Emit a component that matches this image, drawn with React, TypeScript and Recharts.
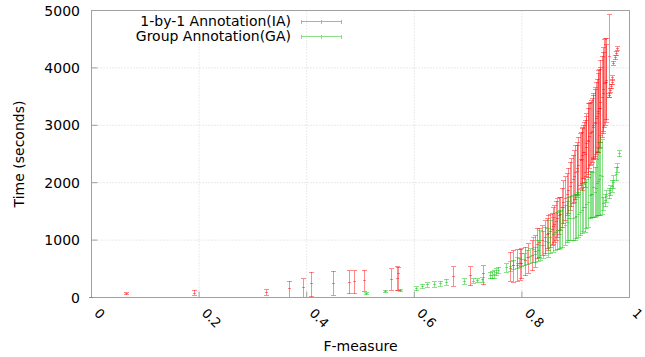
import React from 'react';
import { ScatterChart, Scatter, XAxis, YAxis, CartesianGrid, ErrorBar, Legend } from 'recharts';

const xTicks = [0, 0.2, 0.4, 0.6, 0.8, 1];
const xTickLabels = ['0', '0.2', '0.4', '0.6', '0.8', '1'];
const yTicks = [0, 1000, 2000, 3000, 4000, 5000];

const IA_NAME = '1-by-1 Annotation(IA)';
const GA_NAME = 'Group Annotation(GA)';

// 1-by-1 Annotation (IA): F-measure, mean time, lower and upper end of error bar
const iaF = [
  0.065, 0.191, 0.325, 0.368, 0.394, 0.408, 0.449, 0.48, 0.489, 0.507, 0.558, 0.568, 0.571, 0.672, 0.704, 0.729,
  0.779, 0.785, 0.791, 0.797, 0.8, 0.807, 0.813, 0.819, 0.825, 0.829, 0.833, 0.838, 0.844, 0.847, 0.85, 0.856,
  0.861, 0.866, 0.872, 0.878, 0.884, 0.89, 0.896, 0.9, 0.903, 0.906, 0.909, 0.912, 0.915, 0.918, 0.921, 0.924,
  0.927, 0.931, 0.934, 0.937, 0.939, 0.943, 0.946, 0.947, 0.951, 0.954, 0.955, 0.962,
  0.963, 0.964, 0.966, 0.968, 0.969, 0.971, 0.974, 0.976, 0.977,
  0.853, 0.859, 0.864, 0.869, 0.875, 0.881, 0.887, 0.893, 0.898, 0.904, 0.91, 0.913, 0.917,
  0.92, 0.923, 0.926, 0.929, 0.933, 0.936, 0.94, 0.942, 0.945, 0.949, 0.952, 0.957, 0.958,
];
const iaTime = [
  64, 75, 87, 150, 169, 238, 238, 256, 273, 296, 308, 331, 423, 366, 383, 413,
  500, 560, 560, 590, 600, 640, 690, 730, 800, 930, 950, 1000, 1050, 1100, 1120, 1180,
  1280, 1380, 1450, 1650, 1790, 1930, 2050, 2170, 2200, 2300, 2400, 2400, 2530, 2500, 2690, 2730,
  2850, 2900, 2990, 3050, 3120, 3240, 3300, 3400, 3560, 3730, 3750, 4200,
  3520, 3606, 3676, 3751, 3827, 4083, 4176, 4256, 4333,
  1150, 1240, 1330, 1420, 1560, 1720, 1860, 2000, 2110, 2240, 2390, 2470, 2520,
  2620, 2720, 2810, 2870, 2960, 3030, 3160, 3210, 3290, 3490, 3620, 3780, 3750,
];
const iaLow = [
  45, 40, 40, 0, 0, 10, 35, 64, 64, 110, 122, 122, 130, 192, 209, 220,
  280, 267, 279, 300, 326, 383, 423, 470, 528, 674, 690, 732, 761, 848, 819, 906,
  960, 1051, 1167, 1284, 1429, 1516, 1632, 1700, 1748, 1800, 1951, 1864, 2068, 1922, 2183, 2096,
  2300, 2350, 2416, 2450, 2500, 2531, 2618, 2700, 2850, 2967, 2997, 3490,
  3485, 3571, 3641, 3716, 3792, 4048, 4141, 4221, 4298,
  870, 930, 1000, 1100, 1220, 1350, 1470, 1580, 1660, 1780, 1900, 1980, 2000,
  2100, 2150, 2250, 2320, 2400, 2430, 2520, 2530, 2600, 2780, 2900, 3050, 3100,
];
const iaHigh = [
  85, 130, 135, 284, 331, 441, 458, 465, 465, 476, 500, 535, 530, 540, 540, 550,
  790, 819, 831, 840, 848, 876, 935, 993, 1080, 1196, 1200, 1254, 1341, 1371, 1429, 1458,
  1600, 1720, 1748, 2038, 2155, 2357, 2474, 2648, 2648, 2793, 2850, 2939, 3000, 3084, 3200, 3375,
  3400, 3461, 3560, 3650, 3751, 3955, 4000, 4129, 4274, 4489, 4507, 4925,
  3555, 3641, 3711, 3786, 3862, 4118, 4211, 4291, 4368,
  1440, 1560, 1680, 1740, 1900, 2100, 2250, 2420, 2560, 2700, 2880, 2960, 3050,
  3150, 3300, 3380, 3430, 3520, 3620, 3800, 3900, 3980, 4200, 4350, 4510, 4400,
];

// Group Annotation (GA)
const gaF = [
  0, 0.512, 0.547, 0.574, 0.604, 0.616, 0.624, 0.637, 0.648, 0.66, 0.693, 0.71, 0.718, 0.726, 0.741, 0.745, 0.749, 0.753, 0.757,
  0.772, 0.779, 0.785, 0.791, 0.795, 0.8, 0.805, 0.81, 0.816, 0.822, 0.825, 0.83, 0.834, 0.84, 0.844, 0.85,
  0.853, 0.858, 0.862, 0.867, 0.872, 0.876, 0.881, 0.887, 0.891, 0.896, 0.901, 0.906, 0.912, 0.915, 0.918, 0.921,
  0.924, 0.927, 0.931, 0.934, 0.937, 0.94, 0.943, 0.947, 0.952, 0.958, 0.965, 0.971, 0.975, 0.978, 0.982,
  0.869, 0.884, 0.899, 0.909, 0.929, 0.939, 0.945, 0.949, 0.955, 0.962, 0.968,
];
const gaTime = [
  0, 64, 105, 122, 150, 197, 221, 226, 238, 267, 279, 284, 296, 308, 383, 390, 400, 441, 470,
  515, 535, 565, 598, 600, 657, 660, 697, 720, 830, 745, 815, 900, 910, 980, 950,
  1050, 1100, 1140, 1160, 1180, 1220, 1250, 1370, 1380, 1385, 1410, 1440, 1515, 1560, 1570, 1620,
  1660, 1780, 1790, 1920, 1835, 1985, 2020, 2125, 1632, 1760, 1865, 2010, 2150, 2260, 2510,
  1170, 1310, 1400, 1480, 1790, 1900, 2060, 2100, 1690, 1810, 1935,
];
const gaLow = [
  0, 45, 80, 102, 115, 162, 181, 181, 193, 217, 234, 244, 261, 268, 328, 330, 335, 381, 410,
  440, 450, 480, 500, 528, 540, 557, 570, 590, 615, 615, 630, 645, 680, 732, 702,
  761, 790, 819, 830, 848, 870, 906, 993, 1000, 993, 1020, 1051, 1110, 1150, 1138, 1200,
  1225, 1371, 1400, 1400, 1400, 1420, 1429, 1429, 1516, 1661, 1777, 1893, 2038, 2183, 2456,
  840, 950, 1000, 1080, 1390, 1410, 1429, 1450, 1580, 1720, 1830,
];
const gaHigh = [
  5, 84, 130, 142, 185, 232, 261, 271, 283, 317, 324, 324, 331, 348, 438, 450, 465, 501, 530,
  590, 620, 650, 690, 680, 760, 766, 820, 850, 1051, 876, 1000, 1167, 1150, 1225, 1196,
  1341, 1400, 1458, 1480, 1516, 1560, 1603, 1748, 1760, 1777, 1800, 1835, 1922, 1960, 2009, 2050,
  2096, 2200, 2183, 2444, 2270, 2550, 2618, 2822, 1748, 1864, 1951, 2125, 2270, 2334, 2560,
  1500, 1680, 1790, 1880, 2190, 2400, 2700, 2750, 1800, 1900, 2040,
];

const RED = 'rgba(255,0,0,0.45)';
const GREEN = 'rgba(0,190,0,0.45)';
const RED_KEY = '#ff8c8c';
const GREEN_KEY = '#8cdc8c';
const AXIS = '#a0a0a0';
const FONT = '"DejaVu Sans", Verdana, sans-serif';
const FS = 14;

const keyColorByName: Record<string, string> = { [IA_NAME]: RED_KEY, [GA_NAME]: GREEN_KEY };

const build = (f: number[], t: number[], lo: number[], hi: number[]) =>
  f.map((x, i) => ({ x, y: t[i], err: [Math.max(0, t[i] - lo[i]), Math.max(0, hi[i] - t[i])] }));

const iaData = build(iaF, iaTime, iaLow, iaHigh);
const gaData = build(gaF, gaTime, gaLow, gaHigh);

const plusShape = (color: string) => (props: any) => {
  const { cx, cy } = props;
  if (cx == null || cy == null) return <g />;
  return (
    <path
      d={`M${cx - 1.5},${cy}H${cx + 1.5}`}
      stroke={color}
      strokeWidth={1}
      fill="none"
      shapeRendering="crispEdges"
    />
  );
};

const XTick = (props: any) => {
  const { x, y, payload } = props;
  const idx = xTicks.indexOf(payload.value);
  const label = idx >= 0 ? xTickLabels[idx] : String(payload.value);
  const tx = x + 2;
  return (
    <text x={tx} y={y} transform={`rotate(45 ${tx} ${y})`} textAnchor="start" fontSize={13} fill="#000" fontFamily={FONT}>
      {label}
    </text>
  );
};

const YTick = (props: any) => {
  const { x, y, payload } = props;
  return (
    <text x={x} y={y + 5} textAnchor="end" fontSize={FS} fill="#000" fontFamily={FONT}>
      {payload.value}
    </text>
  );
};

const XLabel = (props: any) => {
  const vb = props.viewBox || { x: 91.5, y: 297.5, width: 538, height: 59.5 };
  return (
    <text x={vb.x + vb.width / 2} y={vb.y + 53} textAnchor="middle" fontSize={FS} fill="#000" fontFamily={FONT}>
      F-measure
    </text>
  );
};

const YLabel = (props: any) => {
  const vb = props.viewBox || { x: 0, y: 10.5, width: 91.5, height: 287 };
  const cx = vb.x + 24;
  const cy = vb.y + vb.height / 2;
  return (
    <text x={cx} y={cy} transform={`rotate(-90 ${cx} ${cy})`} textAnchor="middle" fontSize={FS} fill="#000" fontFamily={FONT}>
      Time (seconds)
    </text>
  );
};

const LegendContent = (props: any) => {
  const payload = props.payload || [];
  return (
    <svg width={645} height={45} style={{ display: 'block', overflow: 'visible' }}>
      {payload.map((p: any, i: number) => {
        const ly = 21.5 + i * 15;
        const c = keyColorByName[p.value] || p.color;
        return (
          <g key={p.value} shapeRendering="crispEdges">
            <text x={291} y={ly + 4.5} textAnchor="end" fontSize={FS} fill="#000" fontFamily={FONT}>
              {p.value}
            </text>
            <line x1={301} x2={342} y1={ly} y2={ly} stroke={c} />
            <line x1={301.5} x2={301.5} y1={ly - 2} y2={ly + 2} stroke={c} />
            <line x1={341.5} x2={341.5} y1={ly - 2} y2={ly + 2} stroke={c} />
            <line x1={321.5} x2={321.5} y1={ly - 2} y2={ly + 2} stroke={c} />
          </g>
        );
      })}
    </svg>
  );
};

export default function App() {
  return (
    <div style={{ position: 'absolute', left: 0, top: 0, background: '#fff' }}>
      <ScatterChart width={645} height={357} margin={{ top: 9.5, right: 14.5, bottom: 0, left: 0 }}>
        <CartesianGrid stroke="#d4d4d4" strokeDasharray="1 2" />
        <XAxis
          type="number"
          dataKey="x"
          domain={[0, 1]}
          ticks={xTicks}
          height={59.5}
          stroke={AXIS}
          tickLine={{ stroke: AXIS }}
          tickSize={-6}
          tickMargin={22.5}
          tick={<XTick />}
          interval={0}
          label={<XLabel />}
        />
        <XAxis
          xAxisId="top"
          orientation="top"
          type="number"
          domain={[0, 1]}
          ticks={xTicks}
          height={1}
          stroke={AXIS}
          tickLine={{ stroke: AXIS }}
          tickSize={-6}
          tick={false}
          interval={0}
        />
        <YAxis
          type="number"
          dataKey="y"
          domain={[0, 5000]}
          ticks={yTicks}
          width={91.5}
          stroke={AXIS}
          tickLine={{ stroke: AXIS }}
          tickSize={-6}
          tickMargin={17.5}
          tick={<YTick />}
          interval={0}
          label={<YLabel />}
        />
        <YAxis
          yAxisId="right"
          orientation="right"
          type="number"
          domain={[0, 5000]}
          ticks={yTicks}
          width={1}
          stroke={AXIS}
          tickLine={{ stroke: AXIS }}
          tickSize={-6}
          tick={false}
          interval={0}
        />
        <Legend
          content={<LegendContent />}
          layout="horizontal"
          verticalAlign="middle"
          align="center"
          wrapperStyle={{ top: 0, left: 0, width: 645, height: 45 }}
        />
        <Scatter name={IA_NAME} data={iaData} fill={RED} shape={plusShape(RED)} isAnimationActive={false}>
          <ErrorBar dataKey="err" direction="y" width={2.5} stroke={RED} strokeWidth={1} shapeRendering="crispEdges" isAnimationActive={false} />
        </Scatter>
        <Scatter name={GA_NAME} data={gaData} fill={GREEN} shape={plusShape(GREEN)} isAnimationActive={false}>
          <ErrorBar dataKey="err" direction="y" width={2.5} stroke={GREEN} strokeWidth={1} shapeRendering="crispEdges" isAnimationActive={false} />
        </Scatter>
      </ScatterChart>
    </div>
  );
}
